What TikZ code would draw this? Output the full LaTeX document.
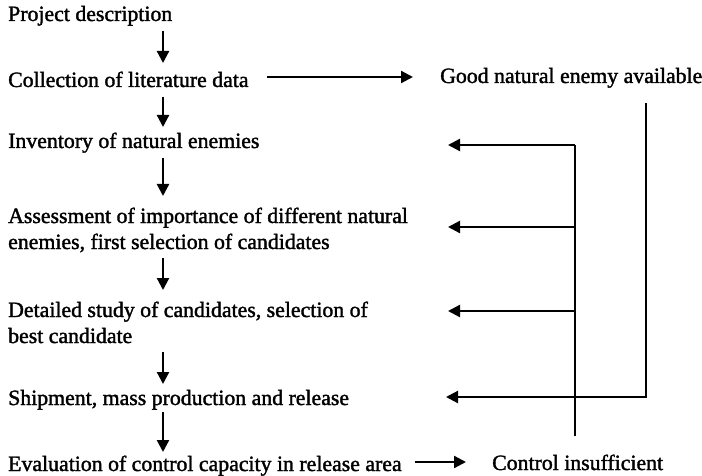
\documentclass[tikz,border=0pt]{standalone}
\usepackage{fontspec}
\setmainfont{Liberation Serif}[FakeBold=1.6]
\usetikzlibrary{arrows.meta,calc}
\begin{document}
\begin{tikzpicture}[x=1pt,y=-1pt,
  txt/.style={anchor=base west,inner sep=0pt,font=\fontsize{21.8}{26}\selectfont,align=left},
  ln/.style={line width=2.2pt},
  arr/.style={ln,-{Triangle[length=12pt,width=12pt]}}]
\useasboundingbox (0,0) rectangle (702,476);
% main column (base = last line)
\node[txt] (p) at (8,21) {Project description};
\node[txt] (c) at (8,87) {Collection of literature data};
\node[txt] (i) at (8,148) {Inventory of natural enemies};
\node[txt] (a) at (8,249) {Assessment of importance of different natural\\enemies, first selection of candidates};
\node[txt] (d) at (8,343) {Detailed study of candidates, selection of\\best candidate};
\node[txt] (s) at (8,405) {Shipment, mass production and release};
\node[txt] (e) at (8,471) {Evaluation of control capacity in release area};
% right side
\node[txt] (g) at (440,83) {Good natural enemy available};
\node[txt] (ci) at (492,470) {Control insufficient};
\coordinate (ax) at (163,0);
\coordinate (tx) at (448,0);
\coordinate (vx) at (575,0);
\coordinate (ox) at (646,0);
% downward arrows
\draw[arr] ($(p.base -| ax)+(0,10)$) -- ($(c.base -| ax)+(0,-24)$);
\draw[arr] ($(c.base -| ax)+(0,10)$) -- ($(i.base -| ax)+(0,-21)$);
\draw[arr] ($(i.base -| ax)+(0,10)$) -- ($(a.base -| ax)+(0,-53)$);
\draw[arr] ($(a.base -| ax)+(0,9)$) -- ($(d.base -| ax)+(0,-53)$);
\draw[arr] ($(d.base -| ax)+(0,9)$) -- ($(s.base -| ax)+(0,-21)$);
\draw[arr] ($(s.base -| ax)+(0,7)$) -- ($(e.base -| ax)+(0,-19)$);
% side arrows
\coordinate (r1) at (267,77);
\draw[arr] (r1) -- ($(r1 -| g.west)+(-27,0)$);
\coordinate (r2) at (415,462);
\draw[arr] (r2) -- ($(r2 -| ci.west)+(-26,0)$);
% feedback from "Control insufficient"
\coordinate (f1) at (575,145);
\coordinate (f2) at (575,227);
\coordinate (f3) at (575,311);
\draw[ln] ($(ci.north -| vx)+(0,-18)$) -- (f1);
\draw[arr] (f1) -- (f1 -| tx);
\draw[arr] (f2) -- (f2 -| tx);
\draw[arr] (f3) -- (f3 -| tx);
% from "Good natural enemy available"
\coordinate (f4) at (646,397);
\draw[arr] ($(g.south -| ox)+(0,15)$) -- (f4) -- ($(f4 -| tx)+(-2,0)$);
\end{tikzpicture}
\end{document}
